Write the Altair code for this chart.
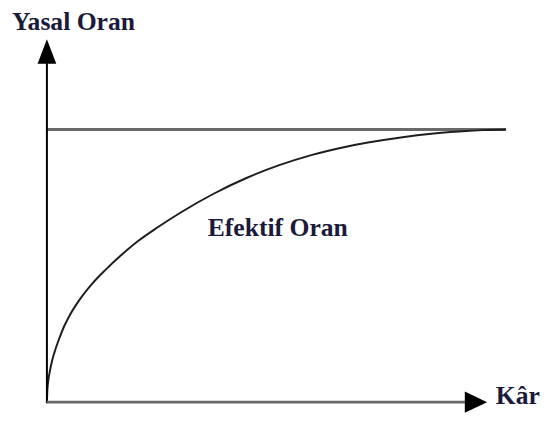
import altair as alt
import pandas as pd

# Effective rate curve (Kâr on x, rate on y; 100 = legal rate)
kar = [0, 0.107, 0.322, 0.644, 1.073, 1.609, 2.682, 3.755, 4.828, 6.974, 9.828, 12.704,
       16.266, 19.850, 24.142, 29.142, 36.309, 43.455, 50.601, 57.768, 64.914, 69.914,
       77.082, 84.227, 87.811, 91.309, 94.957, 100]
efektif = [0, 4.70, 8.13, 11.38, 14.82, 18.07, 23.31, 27.83, 31.44, 37.22, 43.37, 48.43,
           54.03, 59.09, 64.15, 69.57, 76.44, 82.22, 86.92, 90.71, 93.60, 95.23,
           97.11, 98.52, 99.06, 99.49, 99.78, 100]

yasal_x = [0, 100]
yasal_y = [100, 100]

label_text = ["Yasal Oran", "Efektif Oran", "Kâr"]
label_x = [-7.62, 35.02, 97.75]
label_y = [136.6, 60.82, -0.72]

W, H = 542, 405
xs = alt.Scale(domain=[-8.476, (W - 39.5) / 4.66], nice=False, zero=False)
ys = alt.Scale(domain=[-2.89, 143.48], nice=False, zero=False)

curve_df = pd.DataFrame({"x": kar, "y": efektif})
yasal_df = pd.DataFrame({"x": yasal_x, "y": yasal_y})
lab_df = pd.DataFrame({"t": label_text, "x": label_x, "y": label_y})

X = lambda f="x": alt.X(f, type="quantitative", scale=xs, axis=None)
Y = lambda f="y": alt.Y(f, type="quantitative", scale=ys, axis=None)

curve = alt.Chart(curve_df).mark_line(color="#1e1e1e", strokeWidth=2, interpolate="monotone").encode(x=X(), y=Y())
yasal = alt.Chart(yasal_df).mark_line(color="#6a6a6a", strokeWidth=3).encode(x=X(), y=Y())

axes_df = pd.DataFrame({"x": [0, 0], "y": [-0.4, 0], "x2": [0, 91.1], "y2": [124.3, 0], "c": ["v", "h"]})
yaxis = alt.Chart(axes_df[axes_df.c == "v"]).mark_rule(color="#000000", strokeWidth=2).encode(
    x=X(), y=Y(), y2="y2")
xaxis = alt.Chart(axes_df[axes_df.c == "h"]).mark_rule(color="#6a6a6a", strokeWidth=3).encode(
    x=X(), x2="x2", y=Y())

up_arrow = alt.Chart(pd.DataFrame({"x": [0], "y": [128.6]})).mark_point(
    shape="M0,-1L0.76,1L-0.76,1Z", size=625, filled=True, color="#000000", opacity=1, strokeWidth=0
).encode(x=X(), y=Y())
right_arrow = alt.Chart(pd.DataFrame({"x": [93.45], "y": [0]})).mark_point(
    shape="M1,0L-1,-0.95L-1,0.95Z", size=511, filled=True, color="#000000", opacity=1, strokeWidth=0
).encode(x=X(), y=Y())

labels = alt.Chart(lab_df).mark_text(
    align="left", baseline="alphabetic", font="Liberation Serif", fontSize=26,
    fontWeight="bold", color="#1a1a3a"
).encode(x=X(), y=Y(), text="t:N")

chart = alt.layer(yasal, curve, yaxis, xaxis, up_arrow, right_arrow, labels).properties(
    width=W, height=H, padding=0, autosize=alt.AutoSizeParams(type="none"),
    background="white"
).configure_view(stroke=None)

chart.save("out.html", embed_options={"renderer": "svg", "actions": False})
